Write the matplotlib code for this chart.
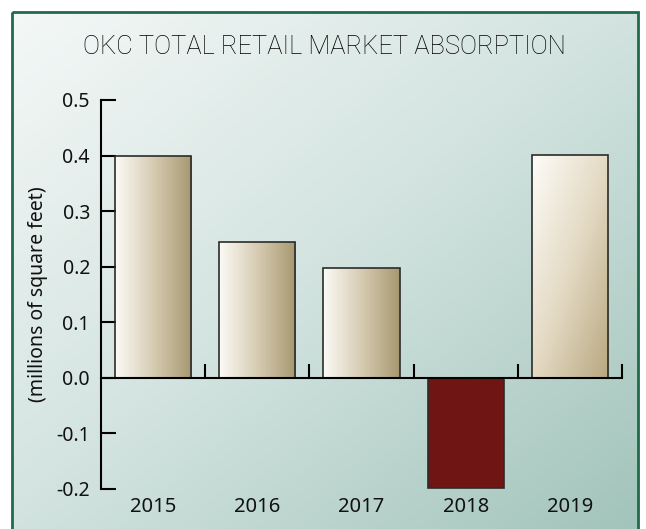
import numpy as np
import matplotlib
matplotlib.use("Agg")
import matplotlib.pyplot as plt
from matplotlib.colors import LinearSegmentedColormap
from matplotlib.patches import Rectangle
from matplotlib.ticker import FormatStrFormatter

# data
years = ["2015", "2016", "2017", "2018", "2019"]
absorption = [0.40, 0.245, 0.198, -0.198, 0.401]
y_ticks = [0.5, 0.4, 0.3, 0.2, 0.1, 0.0, -0.1, -0.2]

title = "OKC TOTAL RETAIL MARKET ABSORPTION"
ylabel = "(millions of square feet)"

W, H = 646, 529
fig = plt.figure(figsize=(W / 100, H / 100), dpi=100)
fig.patch.set_facecolor("white")

# background panel with diagonal gradient and green frame
bg = fig.add_axes([0, 0, 1, 1], zorder=0)
bg.axis("off")
gx, gy = np.meshgrid(np.linspace(0, 1, 300), np.linspace(0, 1, 300))
bg_cmap = LinearSegmentedColormap.from_list("bg", ["#f4f8f7", "#d2e3df", "#a2c4ba"])
bg.imshow((gx + gy) / 2, cmap=bg_cmap, extent=(12, 638, H + 2, 12),
          aspect="auto", vmin=0, vmax=1, interpolation="bilinear")
bg.add_patch(Rectangle((12, 12), 626, H + 10, fill=False, edgecolor="#1f6b4b", lw=2))
bg.set_xlim(0, W)
bg.set_ylim(H, 0)

# thin title, close to the original's light condensed face
fig.text(0.502, 0.911, title, ha="center", va="center", fontsize=18.4,
         family=["Roboto", "DejaVu Sans"], weight="light", color="#000000")

ax = fig.add_axes([101 / W, (H - 489) / H, 521 / W, 389 / H], zorder=1)
ax.patch.set_alpha(0)

x = np.arange(len(years))
bars = ax.bar(x, absorption, width=0.73, edgecolor="#2b2b2b", linewidth=1.2, zorder=2)

grad_h = LinearSegmentedColormap.from_list("gh", ["#fbfaf6", "#d6ccb2", "#a79870"])
grad_d = LinearSegmentedColormap.from_list("gd", ["#fdfcf8", "#e4dac4", "#b8a880"])
for i, b in enumerate(bars):
    x0, y0 = b.get_x(), b.get_y()
    w, h = b.get_width(), b.get_height()
    if absorption[i] < 0:
        b.set_facecolor("#6f1614")
        continue
    b.set_facecolor("none")
    if i == len(bars) - 1:
        # last bar shades diagonally
        img, cm = (gx + gy) / 2, grad_d
    else:
        img, cm = gx, grad_h
    im = ax.imshow(img, cmap=cm, extent=(x0, x0 + w, y0, y0 + h),
                   aspect="auto", origin="upper", vmin=0, vmax=1, zorder=1.5,
                   interpolation="bilinear")
    im.set_clip_path(b)

ax.set_xlim(-0.5, len(years) - 0.5)
ax.set_ylim(-0.2, 0.5)

for s in ["top", "right"]:
    ax.spines[s].set_visible(False)
ax.spines["bottom"].set_position(("data", 0))
ax.spines["left"].set_bounds(-0.2, 0.5)
ax.spines["left"].set_linewidth(1.5)
ax.spines["bottom"].set_linewidth(1.5)
ax.spines["left"].set_zorder(3)
ax.spines["bottom"].set_zorder(3)

ax.set_yticks(y_ticks)
ax.yaxis.set_major_formatter(FormatStrFormatter("%.1f"))
ax.tick_params(axis="y", direction="in", length=11, width=1.5, pad=8,
               labelsize=14, labelcolor="#111111")

# boundary ticks on the zero line
ax.set_xticks(np.arange(len(years)) + 0.5)
ax.tick_params(axis="x", direction="in", length=10, width=1.5, labelbottom=False)

# year labels along the bottom
sec = ax.secondary_xaxis(0)
sec.set_xticks(x)
sec.set_xticklabels(years)
sec.spines["bottom"].set_visible(False)
sec.tick_params(length=0, pad=6, labelsize=14.5, labelcolor="#111111")

for lbl in ax.get_yticklabels() + sec.get_xticklabels():
    lbl.set_family(["Noto Sans", "DejaVu Sans"])

ax.set_ylabel(ylabel, fontsize=14, family=["Noto Sans", "DejaVu Sans"],
              color="#111111", labelpad=6)

fig.savefig("out.png", dpi=100)
